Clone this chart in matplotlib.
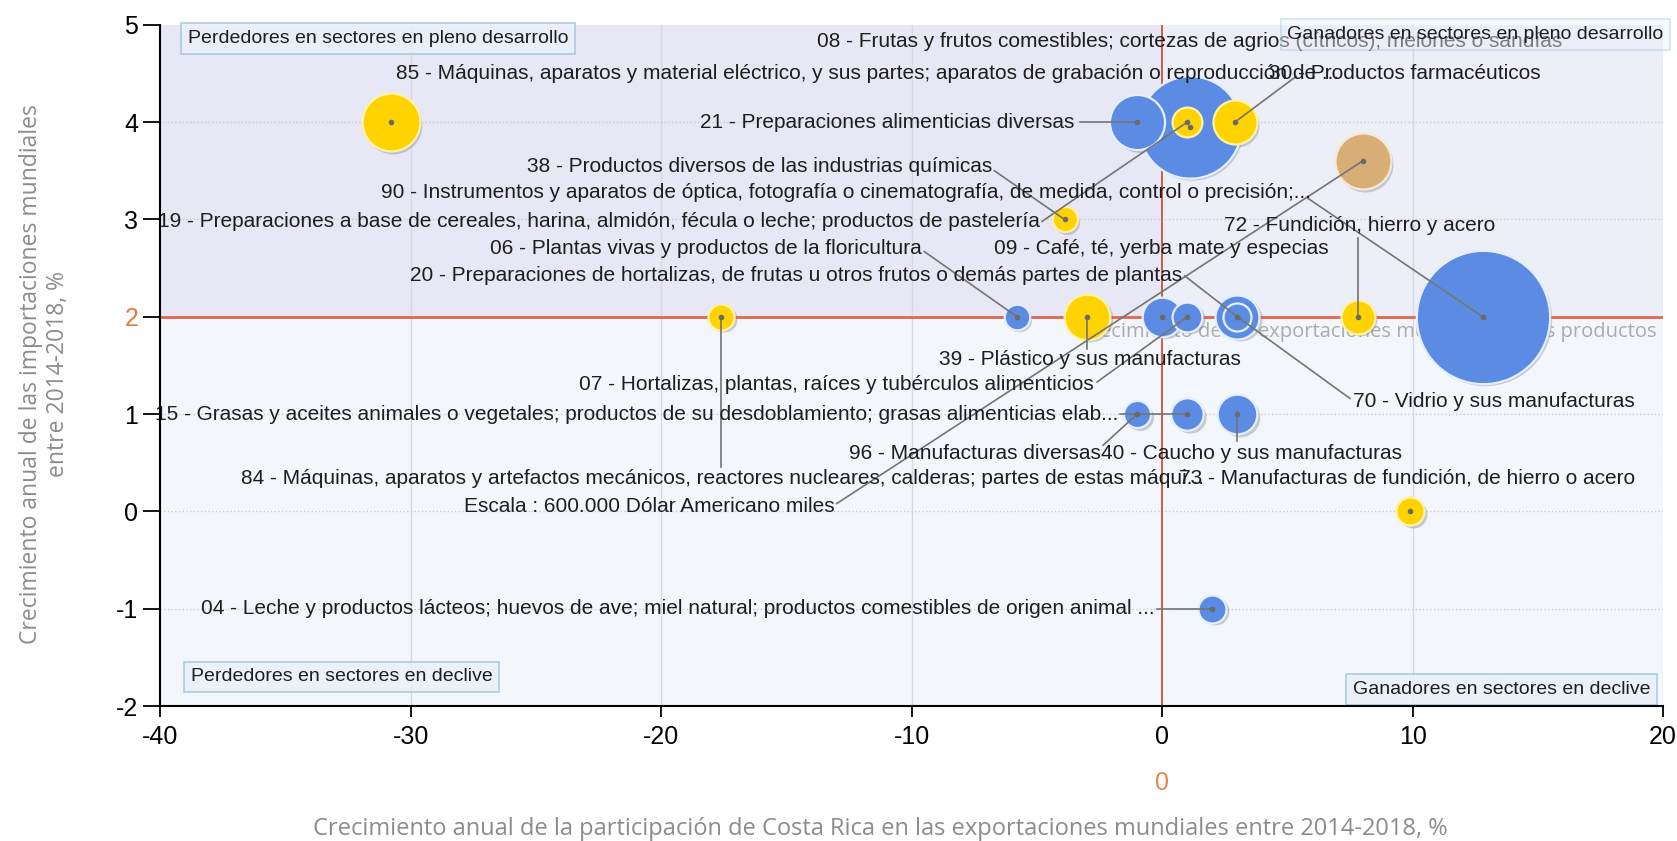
import matplotlib
matplotlib.use('Agg')
import matplotlib.pyplot as plt
import matplotlib.transforms as mtransforms
from matplotlib import font_manager
import numpy as np

fuentes = {f.name for f in font_manager.fontManager.ttflist}
angosta = 'Liberation Sans Narrow' if 'Liberation Sans Narrow' in fuentes else 'Liberation Sans'
plt.rcParams['font.family'] = 'Liberation Sans'
plt.rcParams['axes.unicode_minus'] = False

# capitulos del SA
codigos = ['85', '08', '21', '19', '30', '38', '84', '06', '39', '09', '07',
           '20', '70', '72', '90', '15', '96', '40', '73', '04']
crec_export = [-30.8, 1.1, -1.0, 1.0, 2.9, -3.9, -17.6, -5.8, -3.0, 0.0, 1.0,
               3.0, 3.0, 7.8, 12.8, 1.0, -1.0, 3.0, 9.9, 2.0]
crec_import = [4.0, 3.95, 4.0, 4.0, 4.0, 3.0, 2.0, 2.0, 2.0, 2.0, 2.0,
               2.0, 2.0, 2.0, 2.0, 1.0, 1.0, 1.0, 0.0, -1.0]
# valor exportado, miles de USD
valor = [640000, 2000000, 580000, 170000, 370000, 120000, 130000, 125000, 400000, 300000, 170000,
         370000, 150000, 220000, 3400000, 200000, 140000, 300000, 150000, 150000]
grupo = [1, 0, 0, 1, 1, 1, 1, 0, 1, 0, 0,
         0, 0, 1, 0, 0, 0, 0, 1, 0]

nombres = {
    '08': '08 - Frutas y frutos comestibles; cortezas de agrios (cítricos), melones o sandías',
    '85': '85 - Máquinas, aparatos y material eléctrico, y sus partes; aparatos de grabación o reproducción de ...',
    '30': '30 - Productos farmacéuticos',
    '21': '21 - Preparaciones alimenticias diversas',
    '38': '38 - Productos diversos de las industrias químicas',
    '90': '90 - Instrumentos y aparatos de óptica, fotografía o cinematografía, de medida, control o precisión;...',
    '19': '19 - Preparaciones a base de cereales, harina, almidón, fécula o leche; productos de pastelería',
    '72': '72 - Fundición, hierro y acero',
    '06': '06 - Plantas vivas y productos de la floricultura',
    '09': '09 - Café, té, yerba mate y especias',
    '20': '20 - Preparaciones de hortalizas, de frutas u otros frutos o demás partes de plantas',
    '39': '39 - Plástico y sus manufacturas',
    '07': '07 - Hortalizas, plantas, raíces y tubérculos alimenticios',
    '70': '70 - Vidrio y sus manufacturas',
    '15': '15 - Grasas y aceites animales o vegetales; productos de su desdoblamiento; grasas alimenticias elab...',
    '96': '96 - Manufacturas diversas',
    '40': '40 - Caucho y sus manufacturas',
    '84': '84 - Máquinas, aparatos y artefactos mecánicos, reactores nucleares, calderas; partes de estas máqui...',
    '73': '73 - Manufacturas de fundición, de hierro o acero',
    '04': '04 - Leche y productos lácteos; huevos de ave; miel natural; productos comestibles de origen animal ...',
}

# burbuja de referencia
escala_x, escala_y, escala_valor = 8.0, 3.6, 600000
escala_texto = 'Escala : 600.000 Dólar Americano miles'

# (codigo, x, y, alineacion, inicio de la linea guia)
etiquetas = [
    ('08', -13.8, 4.83, 'left', None),
    ('85', -30.6, 4.50, 'left', None),
    ('30', 15.1, 4.50, 'right', (5.35, 4.47)),
    ('21', -3.5, 4.00, 'right', (-3.3, 4.0)),
    ('38', -6.8, 3.54, 'right', (-6.7, 3.5)),
    ('90', -31.2, 3.28, 'left', (5.8, 3.22)),
    ('19', -4.9, 2.98, 'right', (-4.8, 2.98)),
    ('72', 13.3, 2.94, 'right', (7.8, 2.81)),
    ('06', -9.6, 2.70, 'right', (-9.5, 2.67)),
    ('09', -6.7, 2.70, 'left', None),
    ('20', 0.8, 2.42, 'right', (0.9, 2.42)),
    ('39', -8.9, 1.56, 'left', (-3.0, 1.67)),
    ('07', -2.75, 1.30, 'right', (-2.6, 1.33)),
    ('70', 7.6, 1.13, 'left', (7.5, 1.16)),
    ('15', -1.75, 1.00, 'right', (-1.7, 1.0)),
    ('96', -2.45, 0.59, 'right', (-2.36, 0.68)),
    ('40', -2.45, 0.59, 'left', (3.0, 0.72)),
    ('84', -36.8, 0.34, 'left', (-17.6, 0.46)),
    ('73', 18.9, 0.34, 'right', None),
    ('04', -0.3, -1.00, 'right', (-0.2, -1.0)),
]

colores = {0: '#5B8BE3', 1: '#FFD300'}
bordes = {0: '#E4EEFF', 1: '#FFF2A8'}
color_escala = '#D8AD76'


def tam(v):
    # radio en pixeles proporcional a la raiz del valor (area ~ valor)
    r = 28 * np.sqrt(v / escala_valor)
    return (2 * r * 0.72) ** 2


fig = plt.figure(figsize=(16.77, 8.41), dpi=100)
ax = fig.add_axes([0.0957, 0.1605, 0.896, 0.81])
ax.set_xlim(-40, 20)
ax.set_ylim(-2, 5)

# fondo por cuadrantes
ax.fill_between([-40, 0], 2, 5, color='#E7E7F5', zorder=0, lw=0)
ax.fill_between([0, 20], 2, 5, color='#ECEEF8', zorder=0, lw=0)
ax.fill_between([-40, 20], -2, 2, color='#F3F7FB', zorder=0, lw=0)

for gx in [-30, -20, -10, 10]:
    ax.axvline(gx, color='#D6D9E1', lw=1, zorder=1)
for gy in [4, 3, 1, 0, -1]:
    ax.axhline(gy, color='#C9CBD2', lw=1, ls=':', zorder=1)
ax.axvline(20, color='#D8DAE0', lw=1, ls=':', zorder=1)

ax.axhline(2, color='#E2664E', lw=2, zorder=2)
ax.axvline(0, color='#C9503C', lw=1.3, zorder=2)

ax.text(19.75, 1.84, 'Crecimiento de las exportaciones mundiales de los productos',
        ha='right', va='center', fontsize=14.5, color='#ABABAB', family='Open Sans', zorder=2)

# burbujas, las grandes primero
sombra = mtransforms.offset_copy(ax.transData, fig=fig, x=2.5, y=-2.5, units='dots')
xs = np.array(crec_export + [escala_x])
ys = np.array(crec_import + [escala_y])
vs = np.array(valor + [escala_valor])
cs = [colores[g] for g in grupo] + [color_escala]
bs = [bordes[g] for g in grupo] + ['#F6E9D6']
orden = np.argsort(-vs, kind='stable')
for i in orden:
    ax.scatter(xs[i], ys[i], s=tam(vs[i]), color='#707888', alpha=0.35, lw=0,
               transform=sombra, zorder=3)
    ax.scatter(xs[i], ys[i], s=tam(vs[i]), color=cs[i], edgecolors=bs[i], linewidths=1.6,
               zorder=4)

pos = {c: (x, y) for c, x, y in zip(codigos, crec_export, crec_import)}

# lineas guia
for cod, tx, ty, ha, ini in etiquetas:
    if ini is not None:
        bx, by = pos[cod]
        ax.plot([ini[0], bx], [ini[1], by], color='#747474', lw=1.2, zorder=5)
ax.plot([-13.0, escala_x], [0.08, escala_y], color='#747474', lw=1.2, zorder=5)
ax.scatter(xs, ys, s=9, color='#6A6A6A', zorder=6)

for cod, tx, ty, ha, ini in etiquetas:
    ax.text(tx, ty, nombres[cod], ha=ha, va='center', fontsize=15, color='#1E1E1E', zorder=7)
ax.text(-13.1, 0.05, escala_texto, ha='right', va='center', fontsize=15, color='#1E1E1E', zorder=7)

# etiquetas de cuadrante
caja = dict(boxstyle='square,pad=0.35', fc='#EAF0F9', ec='#9EC6DA', lw=1.2, alpha=0.85)
ax.text(-38.9, 4.86, 'Perdedores en sectores en pleno desarrollo', ha='left', va='center',
        fontsize=14, color='#1E1E1E', bbox=caja, zorder=8)
ax.text(5.0, 4.9, 'Ganadores en sectores en pleno desarrollo', ha='left', va='center',
        fontsize=14, color='#1E1E1E', bbox=dict(caja, alpha=0.45), zorder=8, clip_on=False)
ax.text(-38.8, -1.70, 'Perdedores en sectores en declive', ha='left', va='center',
        fontsize=14, color='#1E1E1E', bbox=caja, zorder=8)
ax.text(19.5, -1.83, 'Ganadores en sectores en declive', ha='right', va='center',
        fontsize=14, color='#1E1E1E', bbox=caja, zorder=8)

# ejes
for lado in ['top', 'right']:
    ax.spines[lado].set_visible(False)
for lado in ['left', 'bottom']:
    ax.spines[lado].set_linewidth(1.5)
    ax.spines[lado].set_zorder(9)
ax.set_xticks([-40, -30, -20, -10, 0, 10, 20])
ax.set_yticks([5, 4, 3, 2, 1, 0, -1, -2])
ax.tick_params(axis='y', length=12, width=1.3, pad=4, labelsize=18)
ax.tick_params(axis='x', length=8, width=1.3, pad=6, labelsize=18)
for t in ax.get_xticklabels() + ax.get_yticklabels():
    t.set_family(angosta)
for t in ax.get_yticklabels():
    if t.get_text() == '2':
        t.set_color('#E07A45')

ax.text(0, -2.79, '0', ha='center', va='center', fontsize=18, family=angosta,
        color='#E8884A', clip_on=False)

fig.text(0.0265, 0.555, 'Crecimiento anual de las importaciones mundiales\nentre 2014-2018, %',
         rotation=90, ha='center', va='center', ma='center', fontsize=16.5,
         color='#8C8C8C', family='Open Sans', linespacing=1.15)
fig.text(0.5248, 0.0143,
         'Crecimiento anual de la participación de Costa Rica en las exportaciones mundiales entre 2014-2018, %',
         ha='center', va='center', fontsize=17, color='#8C8C8C', family='Open Sans')

fig.savefig('out.png', dpi=100, facecolor='white')
